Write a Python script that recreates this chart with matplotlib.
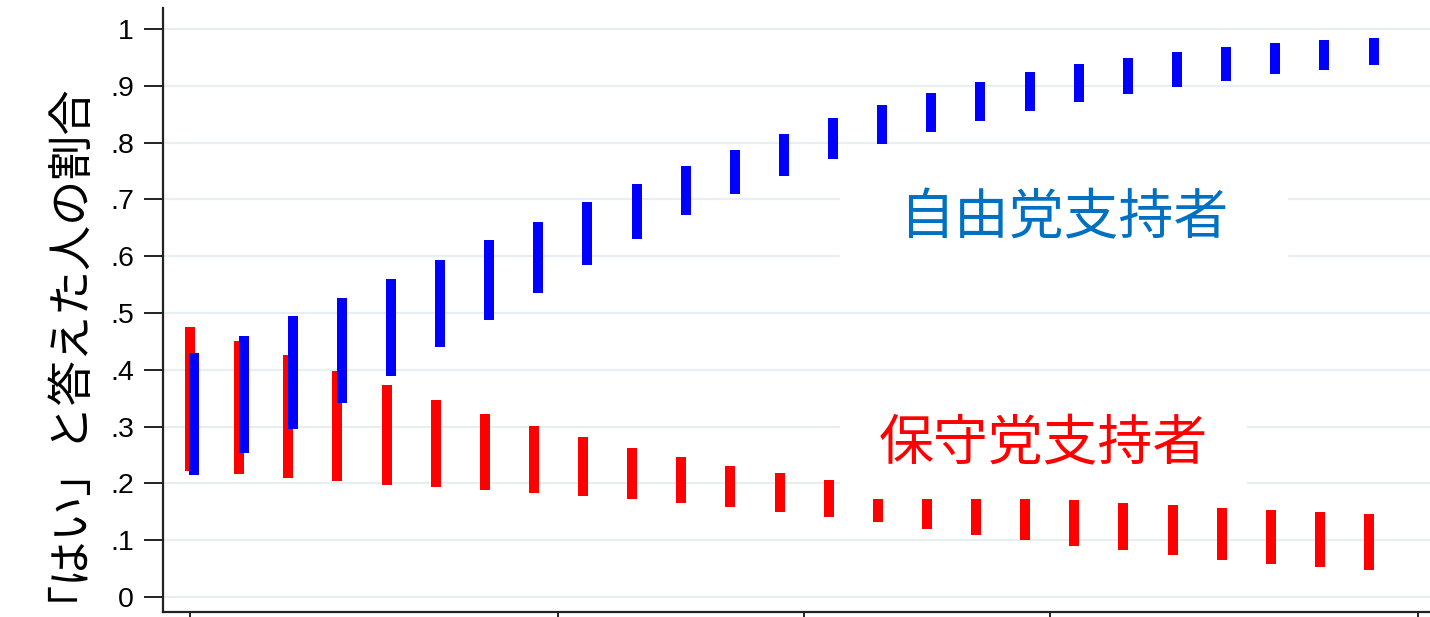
import numpy as np
import matplotlib
matplotlib.use("Agg")
import matplotlib.pyplot as plt
from matplotlib.patches import Rectangle

# Share answering "yes": 95% interval bounds by ideology level
levels = list(range(25))
cons_hi = [0.476, 0.450, 0.426, 0.398, 0.374, 0.347, 0.322, 0.301, 0.281, 0.262,
           0.246, 0.231, 0.218, 0.206, 0.195, 0.186, 0.179, 0.174, 0.170, 0.166,
           0.162, 0.157, 0.154, 0.150, 0.146]
cons_lo = [0.222, 0.217, 0.210, 0.205, 0.198, 0.194, 0.188, 0.184, 0.178, 0.173,
           0.165, 0.158, 0.150, 0.141, 0.132, 0.120, 0.110, 0.100, 0.090, 0.083,
           0.074, 0.066, 0.058, 0.052, 0.048]
lib_hi = [0.429, 0.460, 0.494, 0.527, 0.560, 0.594, 0.629, 0.661, 0.695, 0.728,
          0.759, 0.787, 0.815, 0.843, 0.866, 0.888, 0.907, 0.924, 0.938, 0.949,
          0.959, 0.968, 0.975, 0.981, 0.985]
lib_lo = [0.215, 0.253, 0.295, 0.341, 0.389, 0.440, 0.488, 0.536, 0.585, 0.630,
          0.672, 0.710, 0.741, 0.772, 0.797, 0.819, 0.838, 0.855, 0.872, 0.885,
          0.898, 0.909, 0.920, 0.928, 0.936]

yticks = [0, 0.1, 0.2, 0.3, 0.4, 0.5, 0.6, 0.7, 0.8, 0.9, 1.0]
ytick_labels = ["0", ".1", ".2", ".3", ".4", ".5", ".6", ".7", ".8", ".9", "1"]
xticks = [0, 7.5, 12.5, 17.5, 25]

ylabel = "「はい」と答えた人の割合"
lib_label = "自由党支持者"
cons_label = "保守党支持者"

RED = "#ff0000"
BLUE = "#0000ff"
LIB_TEXT = "#0070c0"
GRID = "#e8eff2"
AXIS = "#222222"

plt.rcParams["font.family"] = ["Liberation Sans", "DejaVu Sans"]
jp_font = ["Noto Sans CJK JP", "DejaVu Sans"]

fig = plt.figure(figsize=(14.30, 6.17), dpi=100)
ax = fig.add_axes([0.114, 0.0081, 0.886, 0.9789])

x = np.asarray(levels, dtype=float)
ax.vlines(x, cons_lo, cons_hi, colors=RED, linewidth=7.2, capstyle="butt", zorder=3)
ax.vlines(x + 0.09, lib_lo, lib_hi, colors=BLUE, linewidth=7.2, capstyle="butt", zorder=4)

ax.set_xlim(-0.55, 25.24)
ax.set_ylim(-0.0264, 1.037)

for v in yticks:
    ax.axhline(v, color=GRID, linewidth=1.6, zorder=1)

ax.set_yticks(yticks)
ax.set_yticklabels(ytick_labels, fontsize=20.5)
ax.set_xticks(xticks)
ax.set_xticklabels([""] * len(xticks))
ax.tick_params(axis="y", length=14, width=1.4, color=AXIS, pad=7)
ax.tick_params(axis="x", length=5, width=1.4, color=AXIS)

for side in ("top", "right"):
    ax.spines[side].set_visible(False)
for side in ("left", "bottom"):
    ax.spines[side].set_color(AXIS)
    ax.spines[side].set_linewidth(1.6)

# white panels behind the group labels
ax.add_patch(Rectangle((13.23, 0.549), 9.12, 0.229, facecolor="white",
                       edgecolor="none", zorder=5))
ax.add_patch(Rectangle((13.23, 0.1725), 8.28, 0.19, facecolor="white",
                       edgecolor="none", zorder=5))

ax.text(17.78, 0.667, lib_label, color=LIB_TEXT, fontsize=39.5, family=jp_font,
        ha="center", va="center", zorder=6)
ax.text(17.36, 0.268, cons_label, color=RED, fontsize=39.5, family=jp_font,
        ha="center", va="center", zorder=6)

fig.text(45 / 1430, 1 - 330 / 617, ylabel, rotation=90, fontsize=32.5,
         family=jp_font, ha="center", va="center", color="black")

fig.savefig("out.png", dpi=100)
